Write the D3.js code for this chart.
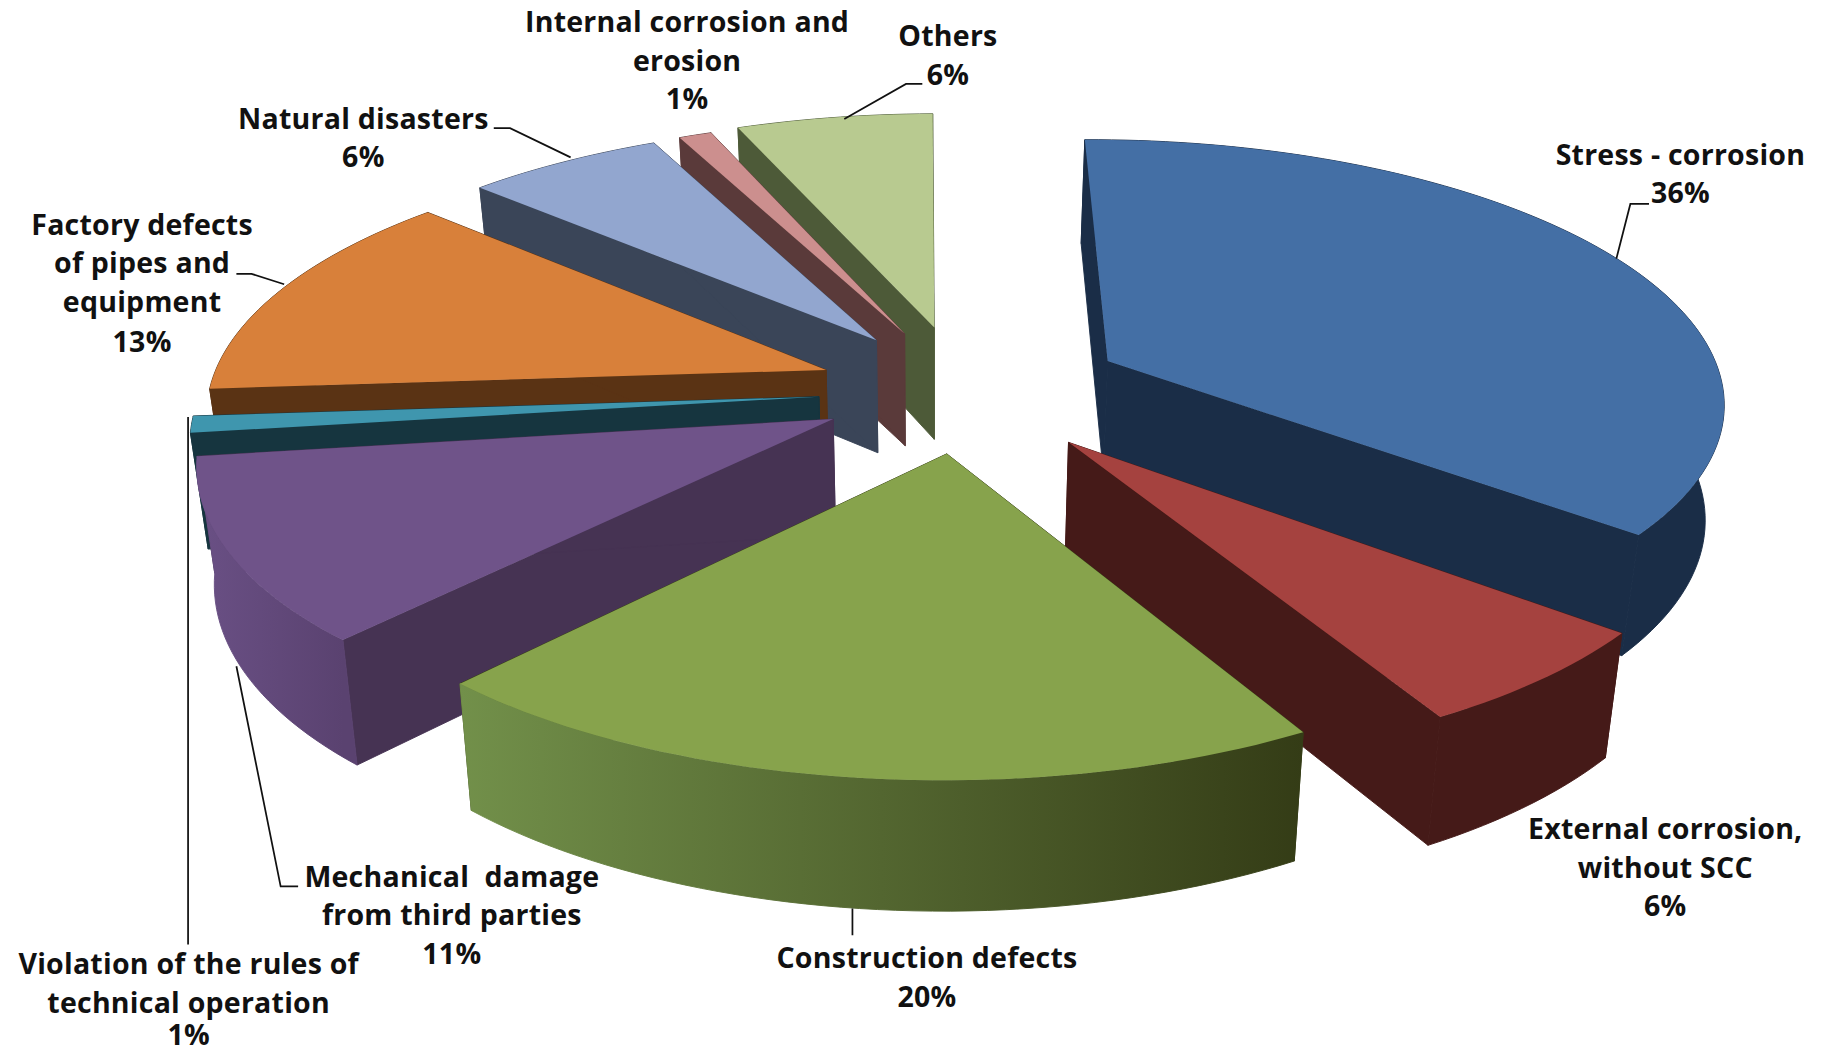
<!DOCTYPE html>
<html><head><meta charset="utf-8"><script src="https://cdn.jsdelivr.net/npm/d3@7"></script>
<style>html,body{margin:0;padding:0;background:#fff}svg{display:block}text{font-family:"Open Sans",sans-serif;font-weight:700;font-size:24.5px;letter-spacing:.2px;fill:#111;text-anchor:middle}</style></head>
<body><svg id="c" width="1826" height="1053" viewBox="0 0 1568 904"></svg>
<script>
// Data
const categories=["Stress - corrosion","External corrosion, without SCC","Construction defects","Mechanical damage from third parties","Violation of the rules of technical operation","Factory defects of pipes and equipment","Natural disasters","Internal corrosion and erosion","Others"];
const values=[36,6,20,11,1,13,6,1,6];
const explode=[139,135,126,125,125,127,130,130,135];
// Styles
const topColors=["#446fa5","#a5423f","#87a34c","#6f5389","#3f96ae","#d8803a","#92a6cf","#cc8f8e","#b8ca90"];
const cutColors=["#1a2d47","#451a18","#374018","#463353","#16353f","#5a3314","#3a4558","#5a3a3a","#4d5a38"];
const wallFrom=["#1a2d47","#451a18","#72904a","#6a5085","#16353f","#5a3314","#3a4558","#5a3a3a","#4d5a38"];
const wallTo=["#1a2d47","#451a18","#343c16","#5a4270","#16353f","#5a3314","#3a4558","#5a3a3a","#4d5a38"];
const drawOrder=[8,7,6,5,4,3,0,1,2];
// Labels
const labelLines=[["Stress - corrosion","36%"],["External corrosion,","without SCC","6%"],["Construction defects","20%"],["Mechanical  damage","from third parties","11%"],["Violation of the rules of","technical operation","1%"],["Factory defects","of pipes and","equipment","13%"],["Natural disasters","6%"],["Internal corrosion and","erosion","1%"],["Others","6%"]];
const labelX=[1443,1430,796,388,162,122,312,590,814];
const labelY=[[133,166],[712,745,778],[823,856],[753,786,819],[828,861,889],[193,226,259,294],[102,135],[19,52,85],[31,64]];
const leaders=[[[1388,222],[1400,175],[1416,175]],[[732,780],[732,803]],[[203,572],[241,761],[256,761]],[[161.5,358],[161.5,811]],[[244,244],[216,235],[203,235]],[[490,135],[438,110],[424,110]],[[725,102],[778,72],[792,72]]];

const cx=828,cy=335,k=0.4218,p=0.000267,R=530;
const project=([X,Y])=>{const w=1-p*Y;return [cx+X/w,cy+k*Y/w];};
const drop=([x,y])=>[x-0.024*(x-800),y+96+0.042*(y-280)];
const pie=d3.pie().sort(null).value(d=>d).startAngle(-0.01)(values);
const svg=d3.select("#c"),defs=svg.append("defs");
const line=d3.line();
pie.forEach((a,i)=>{
  const mid=(a.startAngle+a.endAngle)/2;
  const ox=explode[i]*Math.sin(mid),oy=-explode[i]*Math.cos(mid);
  const n=Math.max(4,Math.round((a.endAngle-a.startAngle)*40));
  const th=d3.range(n+1).map(j=>a.startAngle+(a.endAngle-a.startAngle)*j/n);
  a.apex=project([ox,oy]);
  a.rim=th.map(t=>project([ox+R*Math.sin(t),oy-R*Math.cos(t)]));
});
const xs=i=>d3.extent(pie[i].rim,d=>d[0]);
drawOrder.forEach(i=>{
  const a=pie[i],g=svg.append("g"),rimB=a.rim.map(drop),apB=drop(a.apex);
  const gid="w"+i,ex=xs(i);
  const lg=defs.append("linearGradient").attr("id",gid).attr("gradientUnits","userSpaceOnUse").attr("x1",ex[0]).attr("x2",ex[1]).attr("y1",0).attr("y2",0);
  lg.append("stop").attr("offset",0).attr("stop-color",wallFrom[i]);
  lg.append("stop").attr("offset",1).attr("stop-color",wallTo[i]);
  const first=a.rim[0],last=a.rim[a.rim.length-1];
  g.append("path").attr("d",line([a.apex,first,rimB[0],apB])+"Z").attr("fill",cutColors[i]).attr("stroke",cutColors[i]).attr("stroke-width",.8);
  g.append("path").attr("d",line([a.apex,last,rimB[rimB.length-1],apB])+"Z").attr("fill",cutColors[i]).attr("stroke",cutColors[i]).attr("stroke-width",.8);
  g.append("path").attr("d",line(a.rim.concat(rimB.slice().reverse()))+"Z").attr("fill",`url(#${gid})`).attr("stroke",`url(#${gid})`).attr("stroke-width",.8);
  g.append("path").attr("d",line([a.apex,...a.rim])+"Z").attr("fill",topColors[i]);
});
svg.append("g").selectAll("path").data(leaders).join("path").attr("d",d=>line(d)).attr("fill","none").attr("stroke","#111").attr("stroke-width",1.5);
labelLines.forEach((ls,i)=>{
  ls.forEach((s,j)=>svg.append("text").attr("x",labelX[i]).attr("y",labelY[i][j]+8.5).attr("xml:space","preserve").style("white-space","pre").text(s));
});
</script></body></html>
